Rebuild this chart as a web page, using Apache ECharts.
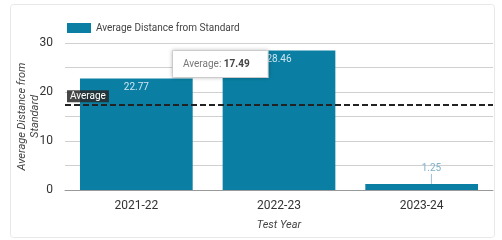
<!DOCTYPE html>
<html>
<head>
<meta charset="utf-8">
<script src="https://cdn.jsdelivr.net/npm/echarts@6/dist/echarts.min.js"></script>
<style>
html, body { margin: 0; padding: 0; background: #fff; }
#main { width: 502px; height: 240px; }
</style>
</head>
<body>
<div id="main"></div>
<script>
var years = ['2021-22', '2022-23', '2023-24'];
var distance = [22.77, 28.46, 1.25];
var average = 17.49;

var chart = echarts.init(document.getElementById('main'));
// small bar gets its label above, in a lighter blue
var barData = distance.map(function (v, i) {
    return i === 2 ? { value: v, label: { color: '#7fb0cc' } } : v;
});
var option = {
    textStyle: { fontFamily: 'Roboto' },
    graphic: [
        {
            type: 'rect',
            shape: { x: 10.5, y: 4.5, width: 484, height: 233, r: 3 },
            style: { fill: 'none', stroke: '#e8e8e8', lineWidth: 1 },
            z: -10
        },
        {
            type: 'text',
            left: 172, top: 50,
            z: 100,
            style: {
                text: '{a|Average: }{b|17.49}',
                backgroundColor: '#fff',
                borderColor: '#ddd',
                borderWidth: 1,
                shadowColor: 'rgba(0,0,0,0.2)',
                shadowBlur: 4,
                padding: [8, 18, 8, 10],
                rich: {
                    a: { fontSize: 10, fill: '#777', fontFamily: 'Roboto' },
                    b: { fontSize: 10, fill: '#444', fontWeight: 'bold', fontFamily: 'Roboto' }
                }
            }
        }
    ],
    legend: {
        left: 62, top: 18,
        itemWidth: 24, itemHeight: 10,
        icon: 'rect',
        textStyle: { fontSize: 10, color: '#444' },
        data: ['Average Distance from Standard']
    },
    grid: { left: 65, right: 9, top: 43, bottom: 50, outerBoundsMode: 'none' },
    xAxis: {
        type: 'category',
        data: years,
        name: 'Test Year',
        nameLocation: 'middle',
        nameGap: 30,
        nameMoveOverlap: false,
        nameTextStyle: { fontStyle: 'italic', fontSize: 11, color: '#444' },
        axisTick: { show: false },
        axisLine: { lineStyle: { color: '#999' } },
        axisLabel: { fontSize: 12, color: '#333', margin: 10 }
    },
    yAxis: {
        type: 'value',
        min: 0, max: 30, interval: 5,
        name: 'Average Distance from\nStandard',
        nameLocation: 'middle',
        nameGap: 23,
        nameMoveOverlap: false,
        nameTextStyle: { fontStyle: 'italic', fontSize: 11, color: '#444', lineHeight: 13 },
        axisLabel: {
            fontSize: 12, color: '#333', margin: 12,
            formatter: function (v) { return v % 10 === 0 ? v : ''; }
        },
        splitLine: { lineStyle: { color: '#d0d0d0' } }
    },
    series: [{
        name: 'Average Distance from Standard',
        type: 'bar',
        data: barData,
        barCategoryGap: '21%',
        itemStyle: { color: '#0b7fa3' },
        label: {
            show: true,
            position: 'insideTop',
            distance: 4,
            fontSize: 10,
            color: '#cfe6f0'
        },
        labelLayout: function (params) {
            if (params.dataIndex === 2) {
                return { y: params.rect.y - 20 };
            }
        },
        labelLine: { show: true, lineStyle: { color: '#9dbfd3', width: 1 } },
        markLine: {
            symbol: 'none',
            silent: true,
            lineStyle: { color: '#222', type: [6, 3], width: 2 },
            label: {
                show: true,
                position: 'insideStartTop',
                formatter: 'Average',
                color: '#fff',
                backgroundColor: 'rgba(40,40,40,0.85)',
                padding: [1, 3],
                fontSize: 10,
                distance: 2
            },
            data: [{ yAxis: average }]
        }
    }]
};
chart.setOption(option);
</script>
</body>
</html>
